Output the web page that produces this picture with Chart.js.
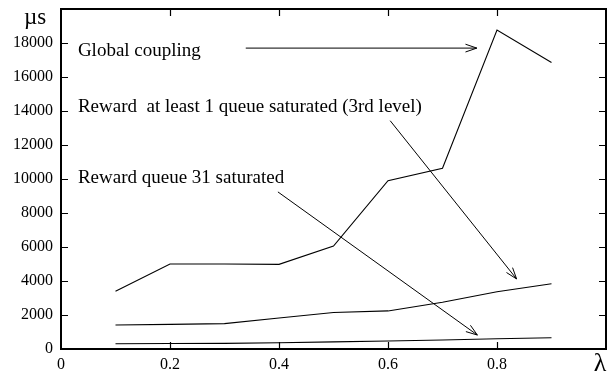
<!DOCTYPE html>
<html>
<head>
<meta charset="utf-8">
<script src="https://cdn.jsdelivr.net/npm/chart.js@4/dist/chart.umd.min.js"></script>
<style>
  html, body { margin: 0; padding: 0; background: #fff; }
  #wrap { width: 615px; height: 379px; }
</style>
</head>
<body>
<div id="wrap"><canvas id="chart"></canvas></div>
<script>
// lambda values on the x axis
const lambda = [0.1, 0.2, 0.3, 0.4, 0.5, 0.6, 0.7, 0.8, 0.9];

// microseconds
const globalCoupling   = [3400, 5000, 5000, 4980, 6060, 9900, 10630, 18760, 16850];
const rewardThirdLevel = [1410, 1450, 1490, 1820, 2150, 2240, 2750, 3370, 3840];
const rewardQueue31    = [310, 320, 330, 370, 420, 470, 530, 600, 665];

const xTicks = [0.2, 0.4, 0.6, 0.8];
const yTicks = [2000, 4000, 6000, 8000, 10000, 12000, 14000, 16000, 18000];

// text notes and their arrows, in data units
const noteLabels = [
  'Global coupling',
  'Reward  at least 1 queue saturated (3rd level)',
  'Reward queue 31 saturated'
];
const notePos = [[0.031, 17530], [0.031, 14230], [0.031, 10060]];
const noteArrows = [
  [0.339, 17700, 0.763, 17700],
  [0.604, 13430, 0.836, 4120],
  [0.398, 9240, 0.764, 820]
];

const SERIF = '"Liberation Serif", "DejaVu Serif", serif';

const toPts = (ys) => lambda.map((x, i) => ({ x: x, y: ys[i] }));

const line = (label, ys) => ({
  label: label,
  data: toPts(ys),
  borderColor: '#000',
  borderWidth: 1.1,
  pointRadius: 0,
  tension: 0,
  fill: false
});

const framePlugin = {
  id: 'frame',
  afterDraw(chart) {
    const ctx = chart.ctx;
    const a = chart.chartArea;
    const xs = chart.scales.x, ys = chart.scales.y;
    ctx.save();
    ctx.strokeStyle = '#000';
    ctx.lineWidth = 2;
    ctx.strokeRect(a.left, a.top, a.right - a.left, a.bottom - a.top);

    // inward ticks on all four sides
    ctx.lineWidth = 1.2;
    ctx.beginPath();
    xTicks.forEach(v => {
      const px = Math.round(xs.getPixelForValue(v)) + 0.5;
      ctx.moveTo(px, a.bottom); ctx.lineTo(px, a.bottom - 7);
      ctx.moveTo(px, a.top); ctx.lineTo(px, a.top + 7);
    });
    yTicks.forEach(v => {
      const py = Math.round(ys.getPixelForValue(v)) + 0.5;
      ctx.moveTo(a.left, py); ctx.lineTo(a.left + 7, py);
      ctx.moveTo(a.right, py); ctx.lineTo(a.right - 7, py);
    });
    ctx.stroke();

    // notes
    ctx.fillStyle = '#000';
    ctx.font = '19px ' + SERIF;
    ctx.textAlign = 'left';
    ctx.textBaseline = 'middle';
    noteLabels.forEach((t, i) => {
      ctx.fillText(t, xs.getPixelForValue(notePos[i][0]), ys.getPixelForValue(notePos[i][1]));
    });

    // arrows with open heads
    ctx.lineWidth = 1;
    noteArrows.forEach(([x0, y0, x1, y1]) => {
      const ax = xs.getPixelForValue(x0), ay = ys.getPixelForValue(y0);
      const bx = xs.getPixelForValue(x1), by = ys.getPixelForValue(y1);
      const ang = Math.atan2(by - ay, bx - ax);
      const len = 12, spread = 0.33;
      ctx.beginPath();
      ctx.moveTo(ax, ay); ctx.lineTo(bx, by);
      ctx.moveTo(bx - len * Math.cos(ang - spread), by - len * Math.sin(ang - spread));
      ctx.lineTo(bx, by);
      ctx.lineTo(bx - len * Math.cos(ang + spread), by - len * Math.sin(ang + spread));
      ctx.stroke();
    });

    // axis units
    ctx.font = '23px ' + SERIF;
    ctx.textAlign = 'center';
    ctx.textBaseline = 'middle';
    ctx.fillText('\u00b5s', 35, 18);
    ctx.font = '26px ' + SERIF;
    ctx.fillText('\u03bb', 600, 364);
    ctx.restore();
  }
};

new Chart(document.getElementById('chart'), {
  type: 'line',
  data: {
    datasets: [
      line('Global coupling', globalCoupling),
      line('Reward at least 1 queue saturated (3rd level)', rewardThirdLevel),
      line('Reward queue 31 saturated', rewardQueue31)
    ]
  },
  options: {
    responsive: true,
    maintainAspectRatio: false,
    animation: false,
    layout: { padding: { top: 9, right: 9, left: 0, bottom: 0 } },
    plugins: { legend: { display: false }, tooltip: { enabled: false } },
    scales: {
      x: {
        type: 'linear',
        min: 0,
        max: 1,
        afterFit(s) { s.height = 30; s.paddingLeft = 0; s.paddingRight = 0; },
        grid: { display: false, drawTicks: false },
        border: { display: false },
        ticks: {
          stepSize: 0.2,
          autoSkip: false,
          maxRotation: 0,
          padding: 6,
          color: '#000',
          font: { family: SERIF, size: 16 },
          callback: v => (v >= 1 ? '' : (v === 0 ? '0' : v.toFixed(1)))
        }
      },
      y: {
        min: 0,
        max: 20000,
        afterFit(s) { s.width = 61; s.paddingTop = 0; s.paddingBottom = 0; },
        grid: { display: false, drawTicks: false },
        border: { display: false },
        ticks: {
          stepSize: 2000,
          padding: 8,
          color: '#000',
          font: { family: SERIF, size: 16 },
          callback: v => (v >= 20000 ? '' : String(v))
        }
      }
    }
  },
  plugins: [framePlugin]
});
</script>
</body>
</html>
